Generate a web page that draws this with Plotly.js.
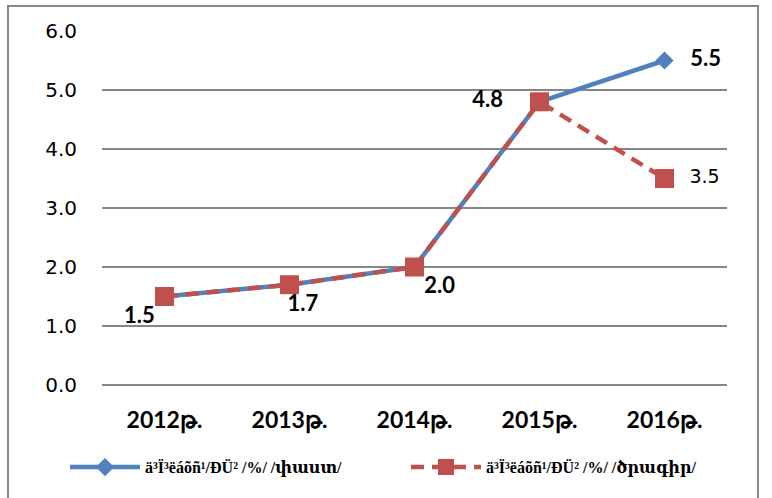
<!DOCTYPE html>
<html>
<head>
<meta charset="utf-8">
<script src="https://cdn.plot.ly/plotly-3.0.1.min.js"></script>
<style>
  body { margin: 0; background: #fff; }
  #chart { width: 772px; height: 498px; }
</style>
</head>
<body>
<div id="chart"></div>
<script>
// years on the x axis
var years = ['2012թ.', '2013թ.', '2014թ.', '2015թ.', '2016թ.'];
// actual (փաստ) and plan (ծրագիր)
var actual = [1.5, 1.7, 2.0, 4.8, 5.5];
var plan = [1.5, 1.7, 2.0, 4.8, 3.5];
var actualName = '<b>ä³Ï³ëáõñ¹/ÐÜ² /%/ /<span style="font-family:DejaVu Serif">փաստ</span>/</b>';
var planName = '<b>ä³Ï³ëáõñ¹/ÐÜ² /%/ /<span style="font-family:DejaVu Serif">ծրագիր</span>/</b>';

var blue = '#4F81BD';
var red = '#C0504D';

// pad the labels a little away from the markers
var nb = '\u00a0';
var actualPos = ['bottom left', 'bottom center', 'bottom right', 'middle left', 'middle right'];
var actualLabels = actual.map(function (v, i) {
    var s = v.toFixed(1);
    if (actualPos[i] == 'middle right') return nb + nb + nb + s;
    if (actualPos[i] == 'middle left') return s + nb + nb + nb + nb + nb;
    if (actualPos[i] == 'bottom center') return nb + nb + nb + nb + nb + s;
    return s;
});
var planLabels = plan.map(function (v, i) {
    return i == plan.length - 1 ? nb + nb + v.toFixed(1) : '';
});

var data = [{
    x: years,
    y: actual,
    name: actualName,
    type: 'scatter',
    mode: 'lines+markers+text',
    line: { color: blue, width: 4.5 },
    marker: { symbol: 'diamond', size: 14, color: blue },
    text: actualLabels,
    textposition: actualPos,
    textfont: { family: 'Lato', size: 22, color: '#000', weight: 'bold' },
    hoverinfo: 'none'
}, {
    x: years,
    y: plan,
    name: planName,
    type: 'scatter',
    mode: 'lines+markers+text',
    line: { color: red, width: 4.5, dash: '13px,8px' },
    marker: { symbol: 'square', size: 19, color: red },
    text: planLabels,
    textposition: 'middle right',
    textfont: { family: 'DejaVu Sans', size: 19, color: '#000' },
    hoverinfo: 'none'
}];

var layout = {
    width: 772,
    height: 498,
    margin: { l: 102, r: 45, t: 31, b: 113 },
    paper_bgcolor: '#fff',
    plot_bgcolor: '#fff',
    showlegend: true,
    xaxis: {
        type: 'category',
        range: [-0.5, 4.5],
        showgrid: false,
        showline: false,
        ticks: '',
        ticklabelstandoff: 19,
        tickfont: { family: 'Lato', size: 23, color: '#000', weight: 'bold' }
    },
    yaxis: {
        range: [0, 6],
        dtick: 1,
        tickformat: '.1f',
        showgrid: true,
        gridcolor: '#868686',
        gridwidth: 1.5,
        zeroline: true,
        zerolinecolor: '#868686',
        zerolinewidth: 1.5,
        showline: false,
        ticks: '',
        ticklabelstandoff: 24,
        tickfont: { family: 'DejaVu Sans', size: 20, color: '#000' }
    },
    legend: {
        orientation: 'h',
        x: -0.0592,
        xanchor: 'left',
        y: -0.232,
        yanchor: 'middle',
        entrywidth: 256,
        itemwidth: 70,
        font: { family: 'Liberation Serif', size: 16, color: '#000' },
        bgcolor: 'rgba(0,0,0,0)'
    },
    shapes: [{
        type: 'rect',
        xref: 'paper', yref: 'paper',
        x0: -0.1504, x1: 1.0496,
        y0: -0.4, y1: 1.0706,
        line: { color: '#888', width: 2 },
        fillcolor: 'rgba(0,0,0,0)',
        layer: 'below'
    }]
};

var configuration = { displayModeBar: false, staticPlot: true };
Plotly.newPlot('chart', data, layout, configuration);
</script>
</body>
</html>
